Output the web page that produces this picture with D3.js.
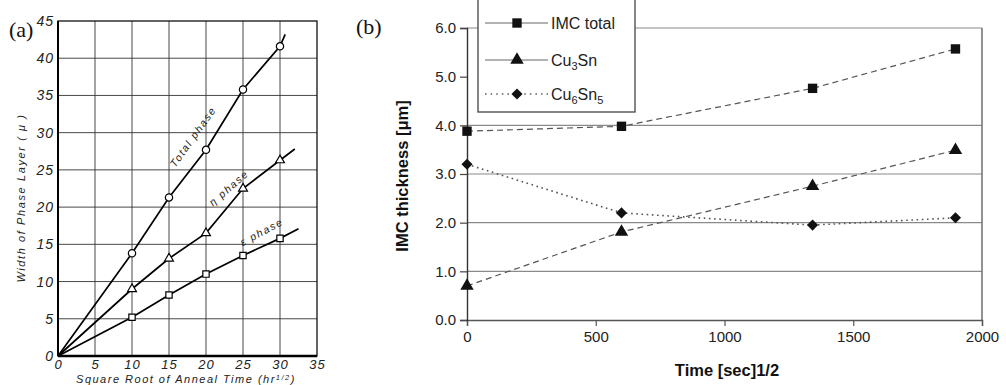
<!DOCTYPE html>
<html>
<head>
<meta charset="utf-8">
<script src="https://d3js.org/d3.v7.min.js"></script>
<style>
  html, body { margin: 0; padding: 0; background: #fff; }
  svg { display: block; }
</style>
</head>
<body>
<div id="chart"></div>
<script>
// ---- panel (a): phase layer width vs sqrt(anneal time)
const annealRoot = [10, 15, 20, 25, 30];
const totalPhase = [13.8, 21.3, 27.7, 35.8, 41.6];
const etaPhase = [9.0, 13.1, 16.5, 22.5, 26.3];
const epsPhase = [5.2, 8.2, 11.0, 13.5, 15.8];
// where each drawn line stops beyond the last point [x, y]
const totalEnd = [30.7, 43.2];
const etaEnd = [32.0, 27.8];
const epsEnd = [32.5, 17.1];
const aTicksX = [0, 5, 10, 15, 20, 25, 30, 35];
const aTicksY = [0, 5, 10, 15, 20, 25, 30, 35, 40, 45];

// ---- panel (b): IMC thickness vs time^1/2
const timeRoot = [0, 600, 1342, 1897];
const imcTotal = [3.88, 3.98, 4.76, 5.57];
const cu3sn = [0.70, 1.81, 2.75, 3.49];
const cu6sn5 = [3.20, 2.20, 1.95, 2.10];
const bTicksX = [0, 500, 1000, 1500, 2000];
const bTicksY = [0, 1, 2, 3, 4, 5, 6];
const bGridY = [1, 2, 3, 4, 6];

const W = 1006, H = 385;
const svg = d3.select('#chart').append('svg')
  .attr('width', W).attr('height', H)
  .attr('viewBox', `0 0 ${W} ${H}`);

// ================= panel (a) =================
const ax = d3.scaleLinear().domain([0, 35]).range([58, 317]);
const ay = d3.scaleLinear().domain([0, 45]).range([356, 21]);
const ga = svg.append('g').attr('class', 'panel-a');
const leroy = '"Liberation Sans", Arial, sans-serif';

// grid
ga.append('g').selectAll('line.v').data(aTicksX.slice(1, -1)).join('line')
  .attr('x1', d => ax(d)).attr('x2', d => ax(d))
  .attr('y1', ay(45)).attr('y2', ay(0))
  .attr('stroke', '#333').attr('stroke-width', 0.9);
ga.append('g').selectAll('line.h').data(aTicksY.slice(1, -1)).join('line')
  .attr('x1', ax(0)).attr('x2', ax(35))
  .attr('y1', d => ay(d)).attr('y2', d => ay(d))
  .attr('stroke', '#333').attr('stroke-width', 0.9);

// frame
ga.append('rect')
  .attr('x', ax(0)).attr('y', ay(45))
  .attr('width', ax(35) - ax(0)).attr('height', ay(0) - ay(45))
  .attr('fill', 'none').attr('stroke', '#111').attr('stroke-width', 1.3);
ga.append('line').attr('x1', ax(0)).attr('x2', ax(35)).attr('y1', ay(0)).attr('y2', ay(0))
  .attr('stroke', '#000').attr('stroke-width', 2.4);
ga.append('line').attr('x1', ax(0)).attr('x2', ax(0)).attr('y1', ay(0)).attr('y2', ay(45))
  .attr('stroke', '#000').attr('stroke-width', 2);

// tick labels
const aXAxis = d3.axisBottom(ax).tickValues(aTicksX).tickSize(0).tickPadding(4);
ga.append('g').attr('transform', `translate(0,${ay(0)})`).call(aXAxis)
  .call(g => g.select('.domain').remove())
  .selectAll('text')
  .attr('font-family', leroy).attr('font-style', 'italic')
  .attr('font-size', 13).attr('letter-spacing', 1).attr('fill', '#222');
const aYAxis = d3.axisLeft(ay).tickValues(aTicksY).tickSize(0).tickPadding(4);
ga.append('g').attr('transform', `translate(${ax(0)},0)`).call(aYAxis)
  .call(g => g.select('.domain').remove())
  .selectAll('text')
  .attr('font-family', leroy).attr('font-style', 'italic')
  .attr('font-size', 14).attr('letter-spacing', 1).attr('fill', '#222');

ga.append('text')
  .attr('transform', `translate(25,198) rotate(-90)`)
  .attr('text-anchor', 'middle')
  .attr('font-family', leroy).attr('font-style', 'italic')
  .attr('font-size', 11).attr('letter-spacing', 1.6).attr('fill', '#222')
  .text('Width of Phase Layer  ( \u03bc )');
const xl = ga.append('text')
  .attr('x', 186).attr('y', 383)
  .attr('text-anchor', 'middle')
  .attr('font-family', leroy).attr('font-style', 'italic')
  .attr('font-size', 11).attr('letter-spacing', 1.5).attr('fill', '#222');
xl.append('tspan').text('Square Root of Anneal Time (hr');
xl.append('tspan').attr('dy', -3.5).attr('font-size', 7.5).text('1/2');
xl.append('tspan').attr('dy', 3.5).text(')');

ga.append('text').attr('x', 9).attr('y', 37)
  .attr('font-family', '"Liberation Serif", "Times New Roman", serif')
  .attr('font-size', 22).attr('fill', '#111').text('(a)');

// fit lines
const aLine = d3.line().x(d => ax(d[0])).y(d => ay(d[1]));
const aSeries = [
  { vals: totalPhase, end: totalEnd, shape: 'circle' },
  { vals: etaPhase, end: etaEnd, shape: 'triangle' },
  { vals: epsPhase, end: epsEnd, shape: 'square' }
];
aSeries.forEach(s => {
  const pts = [[0, 0]].concat(annealRoot.map((x, i) => [x, s.vals[i]]), [s.end]);
  ga.append('path').attr('d', aLine(pts))
    .attr('fill', 'none').attr('stroke', '#000').attr('stroke-width', 1.7);
  const sym = s.shape === 'circle' ? d3.symbolCircle
    : s.shape === 'triangle' ? d3.symbolTriangle : d3.symbolSquare;
  const size = s.shape === 'circle' ? 42 : s.shape === 'triangle' ? 34 : 40;
  ga.append('g').selectAll('path').data(annealRoot).join('path')
    .attr('transform', (d, i) => `translate(${ax(d)},${ay(s.vals[i])})`)
    .attr('d', d3.symbol().type(sym).size(size))
    .attr('fill', '#fff').attr('stroke', '#000').attr('stroke-width', 1.2);
});

// in-plot labels, placed along each line
const aLabels = [
  { text: 'Total phase', x: 20.2, dy: -14, vals: totalPhase },
  { text: '\u03b7 phase', x: 24.4, dy: -11, vals: etaPhase },
  { text: '\u03b5 phase', x: 28.4, dy: -10, vals: epsPhase }
];
aLabels.forEach(l => {
  const slope = (l.vals[4] - l.vals[0]) / (annealRoot[4] - annealRoot[0]);
  const px = ax(l.x), py = ay(slope * l.x);
  const ang = Math.atan2(ay(slope * 30) - ay(0), ax(30) - ax(0)) * 180 / Math.PI;
  const nx = Math.sin(ang * Math.PI / 180), ny = -Math.cos(ang * Math.PI / 180);
  ga.append('text')
    .attr('transform', `translate(${px - nx * l.dy},${py - ny * l.dy}) rotate(${ang})`)
    .attr('text-anchor', 'middle')
    .attr('font-family', leroy).attr('font-style', 'italic')
    .attr('font-size', 10.5).attr('letter-spacing', 1.6).attr('fill', '#222')
    .text(l.text);
});

// ================= panel (b) =================
const bx = d3.scaleLinear().domain([0, 2000]).range([467, 982]);
const by = d3.scaleLinear().domain([0, 6]).range([320, 28]);
const gb = svg.append('g').attr('class', 'panel-b');
const sans = '"Liberation Sans", Arial, Helvetica, sans-serif';

gb.append('g').selectAll('line').data(bGridY).join('line')
  .attr('x1', bx(0)).attr('x2', bx(2000))
  .attr('y1', d => by(d)).attr('y2', d => by(d))
  .attr('stroke', '#8a8a8a').attr('stroke-width', 1.2);
gb.append('line').attr('x1', bx(2000)).attr('x2', bx(2000)).attr('y1', by(6)).attr('y2', by(0))
  .attr('stroke', '#777').attr('stroke-width', 1.6);

const bXAxis = d3.axisBottom(bx).tickValues(bTicksX).tickSize(6).tickPadding(5).tickFormat(d3.format('d'));
gb.append('g').attr('transform', `translate(0,${by(0)})`).call(bXAxis)
  .call(g => g.select('.domain').attr('stroke', '#555').attr('stroke-width', 1.4))
  .call(g => g.selectAll('.tick line').attr('stroke', '#555').attr('stroke-width', 1.2))
  .selectAll('text')
  .attr('font-family', sans).attr('font-size', 15).attr('fill', '#222');
const bYAxis = d3.axisLeft(by).tickValues(bTicksY).tickSize(7).tickPadding(4).tickFormat(d3.format('.1f'));
gb.append('g').attr('transform', `translate(${bx(0)},0)`).call(bYAxis)
  .call(g => g.select('.domain').attr('stroke', '#333').attr('stroke-width', 1.4))
  .call(g => g.selectAll('.tick line').attr('stroke', '#444').attr('stroke-width', 1.2))
  .selectAll('text')
  .attr('font-family', sans).attr('font-size', 15).attr('fill', '#222');

gb.append('text')
  .attr('transform', 'translate(408,176) rotate(-90)')
  .attr('text-anchor', 'middle')
  .attr('font-family', sans).attr('font-weight', 'bold')
  .attr('font-size', 16.5).attr('fill', '#111')
  .text('IMC thickness [\u03bcm]');
gb.append('text')
  .attr('x', 727).attr('y', 376).attr('text-anchor', 'middle')
  .attr('font-family', sans).attr('font-weight', 'bold')
  .attr('font-size', 16.5).attr('fill', '#111')
  .text('Time [sec]1/2');
gb.append('text').attr('x', 356).attr('y', 34)
  .attr('font-family', '"Liberation Serif", "Times New Roman", serif')
  .attr('font-size', 22).attr('fill', '#111').text('(b)');

const bLine = d3.line().x(d => bx(d[0])).y(d => by(d[1]));
const bSeries = [
  { name: 'IMC total', vals: imcTotal, sym: d3.symbolSquare, size: 88, rot: 0, dash: '6,4', lw: 1.2, legDash: null },
  { name: 'Cu3Sn', vals: cu3sn, sym: d3.symbolTriangle, size: 78, rot: 0, dash: '6,4', lw: 1.2, legDash: null },
  { name: 'Cu6Sn5', vals: cu6sn5, sym: d3.symbolSquare, size: 62, rot: 45, dash: '1.6,3.6', lw: 1.6, legDash: '1.6,4' }
];
bSeries.forEach(s => {
  const pts = timeRoot.map((t, i) => [t, s.vals[i]]);
  gb.append('path').attr('d', bLine(pts))
    .attr('fill', 'none').attr('stroke', '#555').attr('stroke-width', s.lw)
    .attr('stroke-dasharray', s.dash);
  gb.append('g').selectAll('path').data(timeRoot).join('path')
    .attr('transform', (d, i) => `translate(${bx(d)},${by(s.vals[i])}) rotate(${s.rot})`)
    .attr('d', d3.symbol().type(s.sym).size(s.size))
    .attr('fill', '#111');
});

// legend
const leg = gb.append('g').attr('class', 'legend');
leg.append('rect').attr('x', 478).attr('y', -4).attr('width', 157).attr('height', 116)
  .attr('fill', '#fff').attr('stroke', '#444').attr('stroke-width', 1.3);
const legRows = [23, 60, 94];
bSeries.forEach((s, i) => {
  const y = legRows[i];
  leg.append('line').attr('x1', 485).attr('x2', 548).attr('y1', y).attr('y2', y)
    .attr('stroke', '#666').attr('stroke-width', s.legDash ? 1.6 : 1.1)
    .attr('stroke-dasharray', s.legDash);
  leg.append('path').attr('transform', `translate(517,${y}) rotate(${s.rot})`)
    .attr('d', d3.symbol().type(s.sym).size(s.size)).attr('fill', '#111');
  const t = leg.append('text').attr('x', 551).attr('y', y + 6)
    .attr('font-family', sans).attr('font-size', 16).attr('fill', '#222');
  const m = s.name.match(/^(Cu)(\d)(Sn)(\d)?$/);
  if (m) {
    t.append('tspan').text(m[1]);
    t.append('tspan').attr('font-size', 11).attr('dy', 4).text(m[2]);
    t.append('tspan').attr('dy', -4).text(m[3]);
    if (m[4]) t.append('tspan').attr('font-size', 11).attr('dy', 4).text(m[4]);
  } else {
    t.text(s.name);
  }
});
</script>
</body>
</html>
